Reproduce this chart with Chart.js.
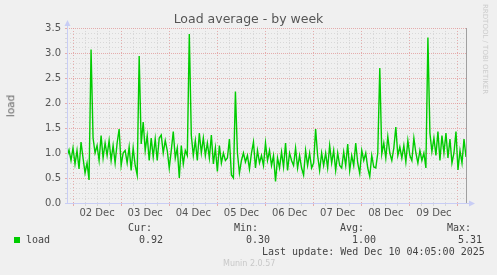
<!DOCTYPE html>
<html>
<head>
<meta charset="utf-8">
<script src="https://cdn.jsdelivr.net/npm/chart.js@4"></script>
<style>
  body { margin: 0; background: #f0f0f0; }
  #wrap { position: relative; width: 497px; height: 275px; overflow: hidden; }
  #chart { position: absolute; left: 0; top: 0; }
  .txt { position: absolute; white-space: pre; line-height: 12px; }
  .sans { font-family: "DejaVu Sans", sans-serif; color: #555; }
  .mono { font-family: "DejaVu Sans Mono", monospace; font-size: 10px; color: #444; }
</style>
</head>
<body>
<div id="wrap">
  <canvas id="chart" width="497" height="275"></canvas>
  <div class="txt sans" style="left:0;width:497px;top:12px;text-align:center;font-size:12.5px;line-height:14px;">Load average - by week</div>
  <div class="txt sans" style="left:-1px;top:100px;font-size:10.5px;transform:rotate(-90deg);color:#666;">load</div>
  <div class="txt sans" style="left:480px;top:4px;font-size:7px;line-height:9px;color:#ccc;writing-mode:vertical-rl;">RRDTOOL / TOBI OETIKER</div>

  <div class="txt mono" style="left:128px;top:222px;">Cur:</div>
  <div class="txt mono" style="left:234px;top:222px;">Min:</div>
  <div class="txt mono" style="left:340px;top:222px;">Avg:</div>
  <div class="txt mono" style="left:447px;top:222px;">Max:</div>
  <div style="position:absolute;left:14px;top:237px;width:6px;height:6px;background:#00cc00;"></div>
  <div class="txt mono" style="left:26px;top:234px;">load</div>
  <div class="txt mono" id="vCur" style="left:139px;top:234px;"></div>
  <div class="txt mono" id="vMin" style="left:246px;top:234px;"></div>
  <div class="txt mono" id="vAvg" style="left:352px;top:234px;"></div>
  <div class="txt mono" id="vMax" style="left:458px;top:234px;"></div>
  <div class="txt mono" style="left:262px;top:246px;">Last update: Wed Dec 10 04:05:00 2025</div>
  <div class="txt sans" style="left:223px;top:259px;font-size:8px;line-height:10px;color:#c8c8c8;">Munin 2.0.57</div>
</div>
<script>
// hours relative to 02 Dec 00:00, one point per hour
const startHour = -3;
const loadValues = [
  0.93, 1.06, 0.85, 1.1, 0.78, 1.05, 0.68, 1.22, 0.9, 0.6, 0.8, 0.46, 3.07, 1.3, 1.0,
  1.15, 0.85, 1.35, 0.9, 1.2, 0.95, 1.25, 0.85, 1.15, 0.8, 1.2, 1.48, 0.75, 1.0,
  1.05, 0.8, 1.12, 0.65, 1.1, 0.75, 0.56, 2.94, 1.18, 1.62, 1.05, 1.35, 0.85, 1.3, 0.92,
  1.28, 0.85, 1.3, 1.36, 1.0, 1.25, 1.05, 0.7, 1.05, 1.43, 0.9, 1.1, 0.5, 1.15,
  0.78, 1.05, 0.95, 3.38, 1.35, 0.95, 1.25, 0.85, 1.4, 1.0, 1.3, 0.95, 1.2, 0.9, 1.36,
  0.78, 1.1, 0.63, 1.15, 0.8, 1.0, 0.85, 0.9, 1.28, 0.56, 0.5, 2.23, 1.0, 0.6,
  0.85, 1.0, 0.82, 0.95, 0.68, 1.0, 1.22, 0.7, 1.05, 0.8, 0.95, 0.75, 1.2, 0.85, 1.05,
  0.75, 0.95, 0.43, 0.9, 0.7, 1.02, 0.72, 1.2, 0.65, 1.0, 0.85, 0.75, 1.1, 0.7,
  0.95, 0.7, 0.56, 1.05, 0.75, 1.0, 0.7, 0.8, 1.48, 0.95, 0.65, 1.0, 0.75, 1.0, 0.7,
  1.15, 0.8, 1.05, 0.65, 1.0, 0.75, 0.7, 1.02, 0.75, 1.18, 0.65, 0.95, 0.75, 1.2,
  0.8, 0.59, 1.05, 0.85, 1.0, 0.7, 0.53, 0.95, 0.72, 0.7, 1.0, 2.7, 0.98, 1.2, 0.9,
  1.33, 1.0, 0.85, 1.1, 1.52, 0.95, 1.12, 0.9, 1.15, 0.82, 1.25, 0.95, 0.85, 1.3,
  1.0, 0.8, 1.05, 0.85, 1.0, 0.7, 3.31, 1.4, 1.03, 1.3, 0.95, 1.43, 0.85, 1.35, 1.0,
  1.4, 0.9, 1.28, 0.8, 1.0, 1.43, 0.66, 1.05, 0.8, 1.28, 0.92
];
const dayLabels = ["02 Dec", "03 Dec", "04 Dec", "05 Dec", "06 Dec", "07 Dec", "08 Dec", "09 Dec"];
const yTickLabels = ["0.0", "0.5", "1.0", "1.5", "2.0", "2.5", "3.0", "3.5"];
const legendStats = { cur: "0.92", min: "0.30", avg: "1.00", max: "5.31" };

document.getElementById("vCur").innerText = legendStats.cur;
document.getElementById("vMin").innerText = legendStats.min;
document.getElementById("vAvg").innerText = legendStats.avg;
document.getElementById("vMax").innerText = legendStats.max;

const points = loadValues.map((v, i) => ({ x: startHour + i, y: v }));

const RED = "rgba(225,150,150,0.75)";
const GREY = "rgba(205,205,205,0.7)";

function isMajorY(v) { return Math.abs(v * 2 - Math.round(v * 2)) < 1e-6; }

const axisPlugin = {
    id: "muninAxes",
    afterDraw(chart) {
        const c = chart.ctx, a = chart.chartArea;
        c.save();
        // right frame line
        c.strokeStyle = "#a0a0a0";
        c.lineWidth = 1;
        c.beginPath();
        c.moveTo(Math.round(a.right) + 0.5, a.top);
        c.lineTo(Math.round(a.right) + 0.5, a.bottom);
        c.stroke();
        // axes
        c.strokeStyle = "#c8cdf5";
        c.beginPath();
        c.moveTo(a.left + 0.5, a.bottom + 1);
        c.lineTo(a.left + 0.5, a.top - 4);
        c.moveTo(a.left - 2, a.bottom + 0.5);
        c.lineTo(a.right + 5, a.bottom + 0.5);
        c.stroke();
        // arrows
        c.fillStyle = "#c8cdf5";
        c.beginPath();
        c.moveTo(a.left + 0.5, a.top - 8);
        c.lineTo(a.left - 2.5, a.top - 2);
        c.lineTo(a.left + 3.5, a.top - 2);
        c.closePath();
        c.fill();
        c.beginPath();
        c.moveTo(a.right + 9, a.bottom + 0.5);
        c.lineTo(a.right + 3, a.bottom - 2.5);
        c.lineTo(a.right + 3, a.bottom + 3.5);
        c.closePath();
        c.fill();
        c.restore();
    }
};

const ctx = document.getElementById("chart").getContext("2d");
new Chart(ctx, {
    type: "line",
    data: {
        datasets: [{
            label: "load",
            data: points,
            borderColor: "#00cc00",
            borderWidth: 1.4,
            pointRadius: 0,
            tension: 0,
            fill: false
        }]
    },
    options: {
        responsive: false,
        animation: false,
        devicePixelRatio: 1,
        layout: { padding: { left: 0, right: 31, top: 28, bottom: 52 } },
        plugins: { legend: { display: false }, tooltip: { enabled: false } },
        scales: {
            x: {
                type: "linear",
                min: startHour,
                max: startHour + loadValues.length - 1,
                afterBuildTicks(scale) {
                    const t = [];
                    for (let h = 0; h <= 192; h += 6) t.push({ value: h });
                    scale.ticks = t;
                },
                afterFit(scale) { scale.height = 20; },
                ticks: {
                    autoSkip: false,
                    maxRotation: 0,
                    padding: 1,
                    color: "#555",
                    font: { family: "DejaVu Sans", size: 10 },
                    callback(v) {
                        if (v % 24 === 12) return dayLabels[(v - 12) / 24];
                        return "";
                    }
                },
                grid: {
                    color: c => (c.tick && c.tick.value % 24 === 0) ? RED : GREY,
                    tickLength: 3,
                    lineWidth: 1
                },
                border: { display: false, dash: c => (c.tick && c.tick.value % 24 === 0) ? [1, 2] : [1, 2] }
            },
            y: {
                min: 0,
                max: 3.5,
                afterBuildTicks(scale) {
                    const t = [];
                    for (let i = 0; i <= 35; i++) t.push({ value: i / 10 });
                    scale.ticks = t;
                },
                afterFit(scale) { scale.width = 67; },
                ticks: {
                    autoSkip: false,
                    padding: 4,
                    color: "#555",
                    font: { family: "DejaVu Sans", size: 10 },
                    callback(v) {
                        if (isMajorY(v)) return yTickLabels[Math.round(v * 2)];
                        return "";
                    }
                },
                grid: {
                    color: c => (c.tick && isMajorY(c.tick.value)) ? RED : GREY,
                    tickLength: 2,
                    lineWidth: 1
                },
                border: { display: false, dash: c => (c.tick && isMajorY(c.tick.value)) ? [1, 1] : [1, 2] }
            }
        }
    },
    plugins: [axisPlugin]
});
</script>
</body>
</html>
